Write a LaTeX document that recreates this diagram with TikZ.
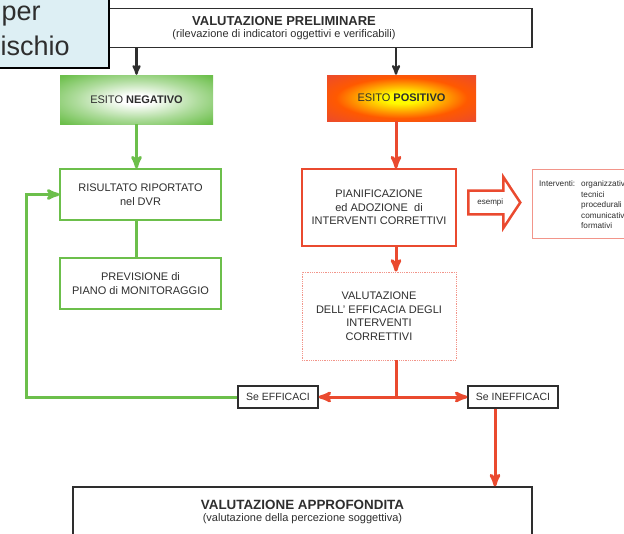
\documentclass[tikz,border=0pt]{standalone}
\usepackage{fontspec}
\setmainfont{Liberation Sans}
\usetikzlibrary{arrows, shapes.arrows}
\definecolor{okgreen}{HTML}{6CBF4B}
\definecolor{kored}{HTML}{EA4A2F}
\definecolor{palered}{HTML}{F2958A}
\definecolor{titleblue}{HTML}{DDEFF4}
\definecolor{inkgray}{HTML}{2E2E2E}
\tikzset{
    %Define standard arrow tip
    >=stealth',
}
\pgfdeclareradialshading{negglow}{\pgfpointorigin}{color(0bp)=(white); color(5bp)=(white); color(20bp)=(okgreen!55); color(34bp)=(okgreen); color(50bp)=(okgreen)}
\pgfdeclareradialshading{posglow}{\pgfpointorigin}{color(0bp)=(yellow); color(6bp)=(yellow!95!orange); color(22bp)=(orange!70!red); color(36bp)=(kored); color(50bp)=(kored)}

\begin{document}
\begin{tikzpicture}[x=1pt, y=-1pt,
    txt/.style = {text=inkgray, align=center, inner sep=0pt},
    blackbox/.style = {txt, draw=inkgray, line width=1.3pt, fill=white},
    greenbox/.style = {txt, draw=okgreen, line width=1.3pt, fill=white,
                       font=\fontsize{11}{13.5}\selectfont},
    redbox/.style = {txt, draw=kored, line width=1.3pt, fill=white,
                     font=\fontsize{11}{13.5}\selectfont},
    glow/.style = {txt, shade, font=\fontsize{11}{13}\selectfont},
    blackline/.style = {draw=inkgray, line width=2.2pt},
    greenline/.style = {draw=okgreen, line width=3pt},
    redline/.style = {draw=kored, line width=3pt},
  ]
  \useasboundingbox (0,0) rectangle (624,533);
  \clip (0,0) rectangle (624,533);

  % top row
  \node[blackbox, minimum width=496pt, minimum height=39pt] (prelim) at (284,28)
    {\fontsize{13}{14.5}\selectfont\bfseries VALUTAZIONE PRELIMINARE\\
     \fontsize{11}{12}\selectfont (rilevazione di indicatori oggettivi e verificabili)};
  \node[draw=black, line width=1.3pt, fill=titleblue,
        minimum width=120pt, minimum height=80pt] (slidetitle) at (49,28) {};
  \node[txt, anchor=base west, font=\fontsize{27}{30}\selectfont] (titleper) at (1.5,20) {per};
  \node[txt, anchor=base west, font=\fontsize{27}{30}\selectfont] (titleischio) at (0.5,55) {ischio};

  \node[glow, shading=negglow, minimum width=153pt, minimum height=49pt] (neg) at (136.5,99.5)
    {ESITO \textbf{NEGATIVO}};
  \node[glow, shading=posglow, minimum width=149pt, minimum height=46pt] (pos) at (401.5,98)
    {ESITO \textbf{POSITIVO}};

  % negative branch
  \node[greenbox, minimum width=161pt, minimum height=51pt] (risult) at (140.5,194.5)
    {RISULTATO RIPORTATO\\nel DVR};
  \node[greenbox, minimum width=161pt, minimum height=51pt] (prev) at (140.5,283.5)
    {PREVISIONE di\\PIANO di MONITORAGGIO};

  % positive branch
  \node[redbox, minimum width=154pt, minimum height=77pt] (pian) at (379,207.5)
    {PIANIFICAZIONE\\ed ADOZIONE\ \ di\\INTERVENTI CORRETTIVI};
  \node[redbox, draw=palered, line width=0.8pt, densely dotted,
        minimum width=154pt, minimum height=88pt] (effic) at (379,316)
    {VALUTAZIONE\\DELL' EFFICACIA DEGLI\\INTERVENTI\\CORRETTIVI};
  \node[single arrow, draw=kored, line width=2.5pt, fill=white, text=inkgray,
        font=\fontsize{8}{9}\selectfont, inner xsep=3pt, inner ysep=7pt,
        minimum height=52pt, minimum width=49pt, single arrow head extend=13.5pt,
        single arrow tip angle=113, anchor=tail] (esempi) at (467,202.5) {esempi};
  \node[draw=palered, line width=1pt, fill=white,
        minimum width=120pt, minimum height=69pt] (interv) at (592,203.5) {};
  \node[txt, anchor=north west, align=left, font=\fontsize{8.2}{10.5}\selectfont] (intervtxt) at (539,179)
    {\begin{tabular}{@{}l@{\hspace{6pt}}l@{}}
      Interventi: & organizzativi\\
                  & tecnici\\
                  & procedurali\\
                  & comunicativi\\
                  & formativi
     \end{tabular}};

  % outcome
  \node[blackbox, font=\fontsize{10.5}{12}\selectfont,
        minimum width=80pt, minimum height=22pt] (seeff) at (278,397) {Se EFFICACI};
  \node[blackbox, font=\fontsize{10.5}{12}\selectfont,
        minimum width=90pt, minimum height=22pt] (seineff) at (513,397) {Se INEFFICACI};
  \node[blackbox, minimum width=459pt, minimum height=73pt] (approf) at (302.5,523.5) {};
  \node[txt] (approftxt) at (302.5,512)
    {\fontsize{13.4}{15}\selectfont\bfseries VALUTAZIONE APPROFONDITA\\
     \fontsize{11}{12}\selectfont (valutazione della percezione soggettiva)};

  \coordinate (rline) at (396,0);
  \coordinate (gloop) at (26,0);
  \coordinate (drop) at (495,0);

  \draw[->, blackline] (prelim.south -| neg.north) -- (neg.north);
  \draw[->, blackline] (prelim.south -| rline) -- (pos.north -| rline);

  \draw[->, greenline] (neg.south) -- (risult.north -| neg.south);
  \draw[greenline] (risult.south -| neg.south) -- (prev.north -| neg.south);
  \draw[->, greenline] (seeff.west) -| (gloop |- risult.west) -- (risult.west);

  \draw[->, redline] (pos.south -| rline) -- (pian.north -| rline);
  \draw[->, redline] (pian.south -| rline) -- (effic.north -| rline);
  \draw[redline] (effic.south -| rline) -- (rline |- seeff.east);
  \draw[<->, redline] (seeff.east) -- (seineff.west);
  \draw[->, redline] (seineff.south -| drop) -- (approf.north -| drop);

\end{tikzpicture}
\end{document}
